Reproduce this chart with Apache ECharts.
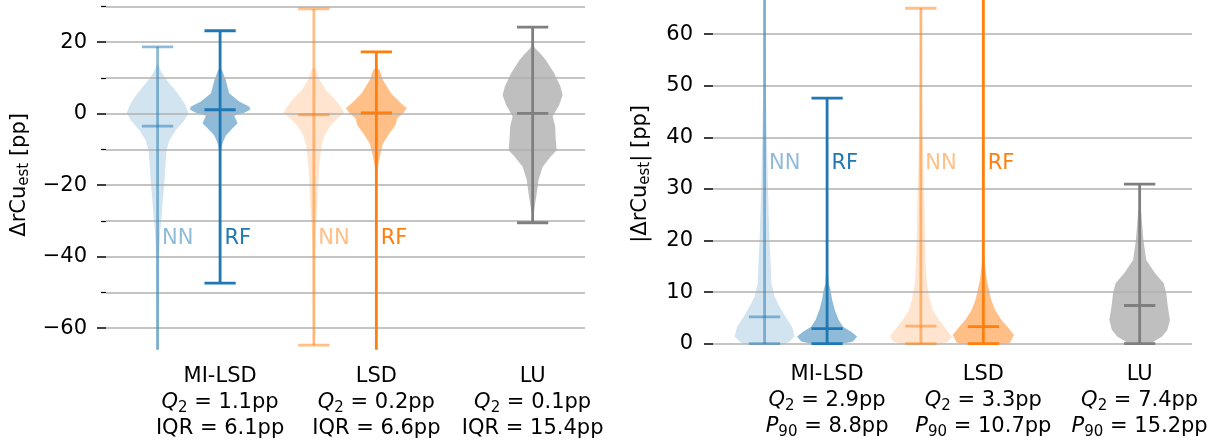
<!DOCTYPE html>
<html>
<head>
<meta charset="utf-8">
<script src="https://cdn.jsdelivr.net/npm/echarts@6/dist/echarts.min.js"></script>
<style>
  html, body { margin: 0; padding: 0; background: #fff; }
  #chart { width: 1220px; height: 444px; }
</style>
</head>
<body>
<div id="chart"></div>
<script>
// groups on the x axis and their summary numbers
var groups = ['MI-LSD', 'LSD', 'LU'];
var groupPos = [1, 2, 3];
var leftQ2 = ['1.1', '0.2', '0.1'];
var leftIqr = ['6.1', '6.6', '15.4'];
var rightQ2 = ['2.9', '3.3', '7.4'];
var rightP90 = ['8.8', '10.7', '15.2'];

// one entry per violin: NN MI-LSD, RF MI-LSD, NN LSD, RF LSD, LU
var models = ['NN', 'RF', 'NN', 'RF', ''];
var violinPos = [0.6, 1, 1.6, 2, 3];

var leftMax = [18.7, 23.2, 29.3, 17.3, 24.2];
var leftMin = [-80, -47.4, -64.7, -85, -30.5];
var leftMedian = [-3.5, 1.1, -0.3, 0.2, 0.1];

var rightMax = [85, 47.6, 65.0, 90, 30.9];
var rightMin = [0, 0, 0, 0, 0];
var rightMedian = [5.2, 2.9, 3.4, 3.3, 7.4];

// violin outlines: [value, relative width]
var leftNnMi = [[14, 0], [12, 0.1], [10, 0.24], [5.7, 0.64], [2.9, 0.86], [0.3, 0.99], [-1.8, 0.86], [-4.6, 0.58], [-7.4, 0.38], [-10.2, 0.29], [-15.7, 0.24], [-20, 0.21], [-25, 0.16], [-29, 0.13], [-33, 0.08], [-40, 0.05], [-80, 0.03]];
var leftRfMi = [[13, 0], [12.2, 0.06], [9.4, 0.18], [5.7, 0.29], [3.4, 0.61], [2.0, 0.93], [1.2, 0.97], [0.3, 0.77], [-0.6, 0.45], [-1.6, 0.51], [-2.7, 0.56], [-4.1, 0.40], [-6.0, 0.19], [-7.8, 0.10], [-9.2, 0.05], [-12, 0.02], [-47.4, 0.01]];
var leftNnLsd = [[13, 0], [12.2, 0.08], [9.9, 0.16], [6.6, 0.38], [3.8, 0.70], [1.5, 0.89], [0.3, 0.97], [-1.0, 0.80], [-3.2, 0.54], [-6.0, 0.34], [-9.2, 0.24], [-14.8, 0.17], [-20.4, 0.14], [-26, 0.11], [-33, 0.06], [-40, 0.04], [-64.7, 0.02]];
var leftRfLsd = [[13, 0], [12.2, 0.10], [9.4, 0.21], [5.7, 0.47], [3.4, 0.73], [1.5, 0.97], [0.1, 0.86], [-1.3, 0.67], [-3.2, 0.61], [-5.5, 0.42], [-8.3, 0.21], [-12, 0.11], [-14.8, 0.05], [-18, 0.02], [-85, 0.01]];
var leftLu = [[19.5, 0], [18.3, 0.08], [16.5, 0.28], [15.0, 0.42], [11.3, 0.69], [7.6, 0.89], [5.2, 0.96], [2.4, 0.85], [-0.8, 0.64], [-3.6, 0.72], [-7.4, 0.74], [-10.2, 0.77], [-12, 0.58], [-14.8, 0.32], [-18.5, 0.19], [-22.3, 0.13], [-26.9, 0.05], [-28.5, 0]];

var rightNnMi = [[0, 0.66], [0.4, 0.80], [1.4, 0.96], [3.3, 0.88], [5.2, 0.67], [7.2, 0.48], [9.1, 0.32], [11.7, 0.22], [14.9, 0.20], [20.1, 0.16], [25.3, 0.13], [32, 0.10], [40.8, 0.07], [50, 0.04], [85, 0.02]];
var rightRfMi = [[0, 0.51], [0.4, 0.83], [1.4, 0.96], [2.3, 0.77], [3.3, 0.51], [4.6, 0.37], [6.5, 0.25], [8.5, 0.16], [10.4, 0.11], [11.7, 0.05], [14, 0.03], [47.6, 0.01]];
var rightNnLsd = [[0, 0.67], [0.4, 0.88], [1.4, 0.99], [2.7, 0.83], [4.6, 0.58], [6.5, 0.38], [8.5, 0.29], [11.7, 0.19], [14.9, 0.16], [21.4, 0.13], [27.8, 0.11], [34, 0.08], [45, 0.04], [65, 0.02]];
var rightRfLsd = [[0, 0.64], [0.2, 0.85], [1.7, 0.98], [3.0, 0.81], [4.6, 0.58], [6.5, 0.38], [8.5, 0.25], [10.4, 0.18], [12.3, 0.11], [14.9, 0.06], [17, 0.03], [90, 0.01]];
var rightLu = [[0, 0.38], [0.5, 0.48], [1.4, 0.72], [2.7, 0.89], [4.6, 0.97], [7.2, 0.90], [9.8, 0.85], [11.7, 0.77], [13.6, 0.50], [16.2, 0.21], [20.1, 0.12], [25.3, 0.05], [27, 0]];

var leftViolins = [leftNnMi, leftRfMi, leftNnLsd, leftRfLsd, leftLu];
var rightViolins = [rightNnMi, rightRfMi, rightNnLsd, rightRfLsd, rightLu];

// NN / RF tags
var leftTagY = -35;
var rightTagY = 35;

var leftTicks = [-60, -40, -20, 0, 20];
var leftMinorTicks = [-50, -30, -10, 10, 30];
var rightTicks = [0, 10, 20, 30, 40, 50, 60];

//---------------------------------------------------------
var FONT = 'DejaVu Sans';
var FS = 21;
var HALF_WIDTH = 0.2;  // violin half width (x units)
var CAP = 0.1;         // half width of the whisker caps
var bodyColors = ['rgba(31,119,180,0.2)', 'rgba(31,119,180,0.5)', 'rgba(255,127,14,0.2)', 'rgba(255,127,14,0.5)', 'rgba(127,127,127,0.5)'];
var lineColors = ['rgba(31,119,180,0.5)', '#1f77b4', 'rgba(255,127,14,0.5)', '#ff7f0e', '#7f7f7f'];

function minus(v) {
    return v < 0 ? '\u2212' + Math.abs(v) : String(v);
}

var subRich = {
    n: { fontSize: FS, fontFamily: FONT, color: '#000', lineHeight: 26 },
    i: { fontSize: FS, fontFamily: FONT, color: '#000', lineHeight: 26, fontStyle: 'italic' },
    s: { fontSize: 15, fontFamily: FONT, color: '#000', lineHeight: 16, verticalAlign: 'bottom' }
};

function violinSeries(axisIdx, yIdx, profile, i) {
    return {
        type: 'custom', xAxisIndex: axisIdx, yAxisIndex: yIdx, z: 1, clip: true, silent: true,
        data: [0],
        renderItem: function (params, api) {
            var pos = violinPos[i];
            var right = profile.map(function (p) { return api.coord([pos + p[1] * HALF_WIDTH, p[0]]); });
            var left = profile.map(function (p) { return api.coord([pos - p[1] * HALF_WIDTH, p[0]]); });
            return {
                type: 'polygon',
                shape: { points: right.concat(left.reverse()) },
                style: { fill: bodyColors[i], stroke: null }
            };
        }
    };
}

function whiskerSeries(axisIdx, yIdx, mins, maxs, meds, tagY) {
    var data = violinPos.map(function (p, i) { return [p, mins[i], maxs[i], meds[i], i]; });
    return {
        type: 'custom', xAxisIndex: axisIdx, yAxisIndex: yIdx, z: 5, clip: true, silent: true,
        data: data,
        renderItem: function (params, api) {
            var pos = api.value(0), lo = api.value(1), hi = api.value(2), med = api.value(3);
            var i = api.value(4);
            var st = { stroke: lineColors[i], lineWidth: 2.8 };
            function seg(x1, y1, x2, y2) {
                var a = api.coord([x1, y1]), b = api.coord([x2, y2]);
                return { type: 'line', shape: { x1: a[0], y1: a[1], x2: b[0], y2: b[1] }, style: st };
            }
            var kids = [
                seg(pos, lo, pos, hi),
                seg(pos - CAP, lo, pos + CAP, lo),
                seg(pos - CAP, hi, pos + CAP, hi),
                seg(pos - CAP, med, pos + CAP, med)
            ];
            if (models[i]) {
                var t = api.coord([pos + 0.028, tagY]);
                kids.push({
                    type: 'text', x: t[0], y: t[1],
                    style: { text: models[i], fill: lineColors[i], font: FS + 'px "' + FONT + '"', align: 'left', verticalAlign: 'middle' }
                });
            }
            return { type: 'group', children: kids };
        }
    };
}

function yAxisBase(grid, min, max) {
    return {
        type: 'value', gridIndex: grid, position: 'left', min: min, max: max, z: 2,
        axisLine: { show: false },
        splitLine: { show: true, lineStyle: { color: '#b0b0b0', width: 1.7 } }
    };
}

var xAxisBase = function (grid, q2, second, secondName) {
    return {
        type: 'value', gridIndex: grid, min: 0.27, max: 3.335,
        axisLine: { show: false }, axisTick: { show: false }, splitLine: { show: false },
        axisLabel: {
            customValues: groupPos, margin: 14,
            formatter: function (v) {
                var k = Math.round(v) - 1;
                return '{n|' + groups[k] + '}\n{i|Q}{s|2}{n| = ' + q2[k] + 'pp}\n' + secondName + '{n| = ' + second[k] + 'pp}';
            },
            rich: subRich
        }
    };
};

var nameStyle = {
    rich: {
        a: { fontSize: FS, fontFamily: FONT, color: '#000', lineHeight: 25 },
        s: { fontSize: 15, fontFamily: FONT, color: '#000', lineHeight: 16, verticalAlign: 'bottom' }
    }
};

var yLeft = yAxisBase(0, -66, 31.8);
yLeft.axisTick = { customValues: leftTicks, length: 9, lineStyle: { color: '#000', width: 1.5 } };
yLeft.axisLabel = { customValues: leftTicks, formatter: minus, fontSize: FS, fontFamily: FONT, color: '#000', margin: 19 };
yLeft.name = '{a|\u0394rCu}{s|est}{a| [pp]}';
yLeft.nameLocation = 'middle';
yLeft.nameRotate = 90;
yLeft.nameGap = 74;
yLeft.nameTextStyle = nameStyle;

var yLeftMinor = yAxisBase(0, -66, 31.8);
yLeftMinor.axisTick = { customValues: leftMinorTicks, length: 5, lineStyle: { color: '#000', width: 1.2 } };
yLeftMinor.axisLabel = { show: false };

var yRight = yAxisBase(1, -0.8, 66.6);
yRight.axisTick = { customValues: rightTicks, length: 9, lineStyle: { color: '#000', width: 1.5 } };
yRight.axisLabel = { customValues: rightTicks, fontSize: FS, fontFamily: FONT, color: '#000', margin: 20 };
yRight.name = '{a||\u0394rCu}{s|est}{a|| [pp]}';
yRight.nameLocation = 'middle';
yRight.nameRotate = 90;
yRight.nameGap = 60;
yRight.nameTextStyle = nameStyle;

var series = [];
leftViolins.forEach(function (p, i) { series.push(violinSeries(0, 0, p, i)); });
rightViolins.forEach(function (p, i) { series.push(violinSeries(1, 2, p, i)); });
series.push(whiskerSeries(0, 0, leftMin, leftMax, leftMedian, leftTagY));
series.push(whiskerSeries(1, 2, rightMin, rightMax, rightMedian, rightTagY));

var chart = echarts.init(document.getElementById('chart'), null, { renderer: 'canvas' });
chart.setOption({
    animation: false,
    backgroundColor: '#fff',
    textStyle: { fontFamily: FONT },
    grid: [
        { left: 106, top: 0, width: 479, height: 349.7 },
        { left: 713, top: 0, width: 479, height: 347.8 }
    ],
    xAxis: [xAxisBase(0, leftQ2, leftIqr, '{n|IQR}'), xAxisBase(1, rightQ2, rightP90, '{i|P}{s|90}')],
    yAxis: [yLeft, yLeftMinor, yRight],
    series: series
});
</script>
</body>
</html>
